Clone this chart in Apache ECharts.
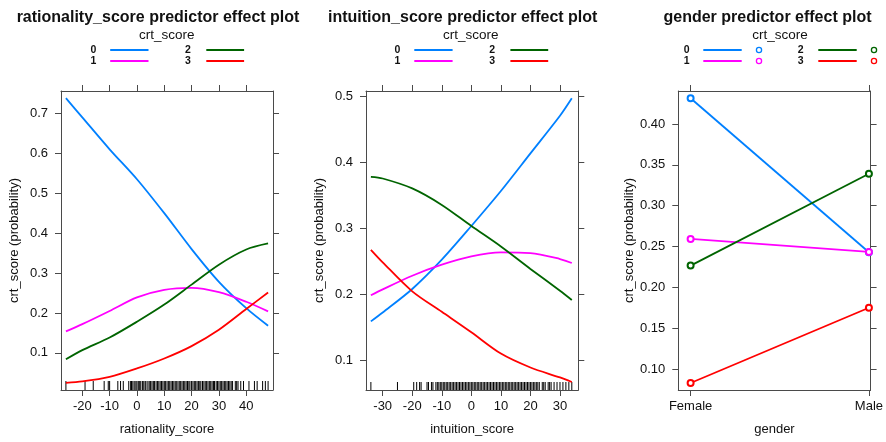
<!DOCTYPE html>
<html>
<head>
<meta charset="utf-8">
<script src="https://cdn.jsdelivr.net/npm/echarts@6/dist/echarts.min.js"></script>
<style>html,body{margin:0;padding:0;background:#fff}#c{width:886px;height:442px}</style>
</head>
<body>
<div id="c"></div>
<script>
// ---------- DATA ----------
const levels = ['0', '1', '2', '3'];
const colors = ['#0080ff', '#ff00ff', '#006400', '#ff0000'];

// Panel 1: rationality_score
const ratX  = [-26, -20, -10, 0, 10, 20, 30, 40, 48];
const rat0  = [0.738, 0.690, 0.610, 0.535, 0.450, 0.360, 0.278, 0.212, 0.168];
const rat1  = [0.154, 0.172, 0.205, 0.239, 0.258, 0.263, 0.252, 0.228, 0.204];
const rat2  = [0.084, 0.107, 0.1385, 0.178, 0.221, 0.271, 0.321, 0.359, 0.374];
const rat3  = [0.025, 0.0285, 0.040, 0.061, 0.086, 0.117, 0.158, 0.210, 0.251];
const ratRug = [-26, -19, -16, -12, -10.5, -10, -7, -6, -5, -3, -2.3, -2, -1.5, -1, -0.4, 0, 0.5, 1, 1.4, 2, 2.5, 3, 3.3, 4, 4.5, 5, 5.5, 6, 6.4, 7, 7.5, 8, 8.5, 9, 9.5, 10, 10.4, 11, 11.5, 12, 12.5, 13, 13.5, 14, 14.4, 15, 15.5, 16, 16.5, 17, 17.5, 18, 18.5, 19, 19.4, 20, 20.5, 21, 21.5, 22, 22.5, 23, 23.4, 24, 24.5, 25, 25.5, 26, 26.5, 27, 27.5, 28, 28.4, 29, 29.5, 30, 30.5, 31, 31.5, 32, 32.5, 33, 33.5, 34, 34.5, 35, 36, 36.5, 37, 38, 39, 41, 43, 44, 46, 47, 48];
const ratTicks = [-20, -10, 0, 10, 20, 30, 40];
const ratYTicks = [0.1, 0.2, 0.3, 0.4, 0.5, 0.6, 0.7];

// Panel 2: intuition_score
const intX = [-34, -30, -20, -10, 0, 10, 20, 30, 34];
const int0 = [0.1585, 0.172, 0.2076, 0.252, 0.303, 0.356, 0.413, 0.470, 0.4965];
const int1 = [0.198, 0.207, 0.2277, 0.2444, 0.257, 0.263, 0.262, 0.253, 0.247];
const int2 = [0.3775, 0.375, 0.360, 0.335, 0.303, 0.272, 0.238, 0.205, 0.191];
const int3 = [0.267, 0.248, 0.204, 0.173, 0.142, 0.1097, 0.0886, 0.0735, 0.0666];
const intRug = [-34, -25, -19.5, -18.5, -17.5, -17, -15, -14.5, -13.5, -13, -12, -11.5, -11, -10.5, -10, -9.5, -9, -8.5, -8, -7.5, -7, -6.5, -6, -5.5, -5, -4.5, -4, -3.5, -3, -2.5, -2, -1.5, -1, -0.5, 0, 0.5, 1, 1.5, 2, 2.5, 3, 3.5, 4, 4.5, 5, 5.5, 6, 6.5, 7, 7.5, 8, 8.5, 9, 9.5, 10, 10.5, 11, 11.5, 12, 12.5, 13, 13.5, 14, 14.5, 15, 15.5, 16, 16.5, 17, 17.5, 18, 18.5, 19, 19.5, 20, 20.5, 21, 21.5, 22, 22.5, 23, 24, 24.5, 25, 26, 26.5, 27, 28, 29, 30, 31, 32, 33, 34];
const intTicks = [-30, -20, -10, 0, 10, 20, 30];
const intYTicks = [0.1, 0.2, 0.3, 0.4, 0.5];

// Panel 3: gender
const genders = ['Female', 'Male'];
const genPos = [0, 1];
const gen0 = [0.4315, 0.243];
const gen1 = [0.2593, 0.2434];
const gen2 = [0.2266, 0.339];
const gen3 = [0.0829, 0.175];
const genYTicks = [0.10, 0.15, 0.20, 0.25, 0.30, 0.35, 0.40];

const titles = ['rationality_score predictor effect plot', 'intuition_score predictor effect plot', 'gender predictor effect plot'];
const xNames = ['rationality_score', 'intuition_score', 'gender'];
const yName = 'crt_score (probability)';
const legendTitle = 'crt_score';

// ---------- LAYOUT ----------
const FONT = '"Liberation Sans", Arial, Helvetica, sans-serif';
const BOX = '#4a4a4a';
const panels = [
  {left: 61, width: 212, xmin: -27.8, xmax: 49.8, ymin: 0.007, ymax: 0.756, xt: ratTicks, yt: ratYTicks, yfmt: v => String(v), xfmt: v => String(v)},
  {left: 366, width: 212.3, xmin: -35.65, xmax: 36.2, ymin: 0.0545, ymax: 0.5076, xt: intTicks, yt: intYTicks, yfmt: v => String(v), xfmt: v => String(v)},
  {left: 678.3, width: 193.4, xmin: -0.069, xmax: 1.0095, ymin: 0.0743, ymax: 0.4404, xt: genPos, yt: genYTicks, yfmt: v => v.toFixed(2), xfmt: v => genders[Math.round(v)]}
];
const TOP = 91, HEIGHT = 299;

const grid = [], xAxis = [], yAxis = [], series = [];
panels.forEach((p, i) => {
  grid.push({left: p.left, top: TOP, width: p.width, height: HEIGHT, show: false});
  const line = {show: true, onZero: false, lineStyle: {color: BOX, width: 1}};
  const tick = (vals) => ({show: true, customValues: vals, length: 6, inside: false, lineStyle: {color: BOX, width: 1}});
  xAxis.push({
    gridIndex: i, type: 'value', position: 'bottom', min: p.xmin, max: p.xmax,
    axisLine: line, axisTick: tick(p.xt), splitLine: {show: false},
    axisLabel: {customValues: p.xt, formatter: p.xfmt, margin: 10, fontSize: 13, color: '#111', fontFamily: FONT},
    name: xNames[i], nameLocation: 'middle', nameGap: 33,
    nameTextStyle: {fontSize: 13, color: '#111', fontFamily: FONT}
  });
  xAxis.push({
    gridIndex: i, type: 'value', position: 'top', min: p.xmin, max: p.xmax,
    axisLine: line, axisTick: tick(p.xt), splitLine: {show: false}, axisLabel: {show: false}
  });
  yAxis.push({
    gridIndex: i, type: 'value', position: 'left', min: p.ymin, max: p.ymax,
    axisLine: line, axisTick: tick(p.yt), splitLine: {show: false},
    axisLabel: {customValues: p.yt, formatter: p.yfmt, margin: 13, fontSize: 13, color: '#111', fontFamily: FONT},
    name: yName, nameLocation: 'middle', nameGap: i === 2 ? 41 : 40, nameRotate: 90,
    nameTextStyle: {fontSize: 13, color: '#111', fontFamily: FONT}
  });
  yAxis.push({
    gridIndex: i, type: 'value', position: 'right', min: p.ymin, max: p.ymax,
    axisLine: line, axisTick: tick(p.yt), splitLine: {show: false}, axisLabel: {show: false}
  });
});

function zip(xs, ys) { return xs.map((x, k) => [x, ys[k]]); }
const curveSets = [
  {xs: ratX, ys: [rat0, rat1, rat2, rat3]},
  {xs: intX, ys: [int0, int1, int2, int3]},
  {xs: genPos, ys: [gen0, gen1, gen2, gen3]}
];
curveSets.forEach((cs, i) => {
  cs.ys.forEach((ys, k) => {
    const isGender = i === 2;
    series.push({
      type: 'line', name: levels[k], xAxisIndex: 2 * i, yAxisIndex: 2 * i,
      data: zip(cs.xs, ys),
      smooth: isGender ? false : 0.3,
      showSymbol: isGender, symbol: 'emptyCircle', symbolSize: 6,
      lineStyle: {color: colors[k], width: 1.8},
      itemStyle: {color: colors[k], borderColor: colors[k], borderWidth: 1.3},
      silent: true, animation: false, z: 3
    });
  });
});

// rugs
[[ratRug, 0, 9], [intRug, 1, 8]].forEach(([rug, i, len]) => {
  const ymin = panels[i].ymin;
  series.push({
    type: 'custom', xAxisIndex: 2 * i, yAxisIndex: 2 * i,
    data: rug.map(v => [v, ymin]),
    encode: {x: 0, y: 1},
    renderItem: (params, api) => {
      const pt = api.coord([api.value(0), api.value(1)]);
      return {type: 'line', shape: {x1: pt[0], y1: pt[1], x2: pt[0], y2: pt[1] - len},
        style: {stroke: '#000', lineWidth: 1}};
    },
    silent: true, animation: false, z: 2
  });
});

// legends as graphics
const graphic = [];
const legendCenters = [166.7, 470.8, 780];
legendCenters.forEach((cx, i) => {
  graphic.push({type: 'text', x: cx, y: 35.7, style: {text: legendTitle, fill: '#111', font: '13.5px ' + FONT, textAlign: 'center', textVerticalAlign: 'middle'}});
  const g = i === 2;
  const off = g ? [-93.3, -76.7, -38.3, -21, 20.7, 38.3, 76.7, 94] : [-73.4, -56.5, -18.2, 0, 21.3, 39.6, 77.4, 0];
  [[0, 50], [1, 61], [2, 50], [3, 61]].forEach(([k, y]) => {
    const right = k >= 2;
    const lx = cx + (right ? off[4] : off[0]);
    const l1 = cx + (right ? off[5] : off[1]);
    const l2 = cx + (right ? off[6] : off[2]);
    graphic.push({type: 'text', x: lx, y: y, style: {text: levels[k], fill: '#111', font: 'bold 10.5px ' + FONT, textAlign: 'center', textVerticalAlign: 'middle'}});
    graphic.push({type: 'line', shape: {x1: l1, y1: y, x2: l2, y2: y}, style: {stroke: colors[k], lineWidth: 1.8}});
    if (g) {
      const ccx = cx + (right ? off[7] : off[3]);
      graphic.push({type: 'circle', shape: {cx: ccx, cy: y, r: 2.6}, style: {fill: 'none', stroke: colors[k], lineWidth: 1.3}});
    }
  });
});

const titleCenters = [153, 457.7, 762.5];
const title = titles.map((t, i) => ({
  text: t, left: titleCenters[i], top: 5, textAlign: 'center',
  textStyle: {fontSize: 16, fontWeight: 'bold', color: '#111', fontFamily: FONT}
}));

const chart = echarts.init(document.getElementById('c'), null, {renderer: 'canvas'});
chart.setOption({
  animation: false,
  backgroundColor: '#fff',
  title, grid, xAxis, yAxis, series, graphic
});
</script>
</body>
</html>
